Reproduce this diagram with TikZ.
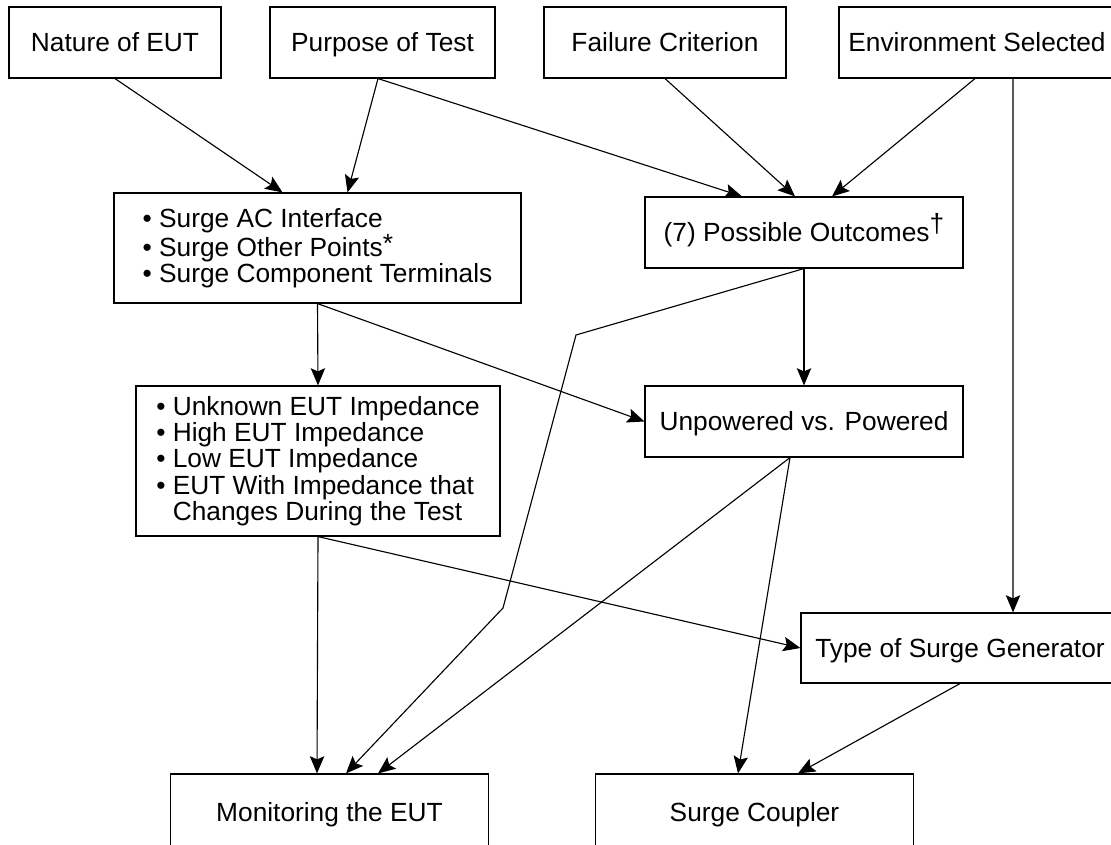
\documentclass[tikz,border=0pt]{standalone}
\usepackage{fontspec}
\setmainfont{Liberation Sans}
\usetikzlibrary{arrows.meta}

\begin{document}
\begin{tikzpicture}[
    x=0.025cm, y=-0.025cm,
    >={Stealth[length=4.3mm, width=3.6mm, inset=0.8mm]},
    line width=0.8pt,
    listbox/.style={draw, rectangle, inner sep=0pt, align=left,
      font=\fontsize{18.7}{18.7}\selectfont},
    flowbox/.style={listbox, align=center, text height=13.4pt, text depth=0pt},
  ]

  \useasboundingbox (0,0) rectangle (1111,845);

  % Top row of inputs
  \node[flowbox, minimum width=5.3cm, minimum height=1.775cm]
    (nature) at (115,42.5) {Nature of EUT};
  \node[flowbox, minimum width=5.625cm, minimum height=1.775cm]
    (purpose) at (382.5,42.5) {Purpose of Test};
  \node[flowbox, minimum width=6.05cm, minimum height=1.775cm]
    (failure) at (665,42.5) {Failure Criterion};
  \node[flowbox, minimum width=6.9cm, minimum height=1.775cm]
    (environ) at (977,42.5) {Environment Selected};

  % Surge points and outcomes
  \node[listbox, minimum width=10.175cm, minimum height=2.75cm]
    (surge) at (317.5,248)
    {• Surge AC Interface\\
     • Surge Other Points\raisebox{0.15em}{*}\\
     • Surge Component Terminals};
  \node[flowbox, minimum width=7.95cm, minimum height=1.775cm]
    (outcomes) at (804,232.5) {(7) Possible Outcomes\raisebox{0.35em}{†}};

  % Impedance and power state
  \node[listbox, minimum width=9.1cm, minimum height=3.75cm]
    (unknown) at (318,461)
    {• Unknown EUT Impedance\\
     • High EUT Impedance\\
     • Low EUT Impedance\\
     • EUT With Impedance that\\
     \phantom{• }Changes During the Test};
  \node[flowbox, minimum width=7.95cm, minimum height=1.775cm]
    (unpowered) at (804,421.5) {Unpowered vs. Powered};

  % Generator
  \node[flowbox, minimum width=7.95cm, minimum height=1.75cm]
    (typegen) at (960,648) {Type of Surge Generator};

  % Bottom row
  \node[flowbox, minimum width=7.95cm, minimum height=1.9cm]
    (monitor) at (329.5,812) {Monitoring the EUT};
  \node[flowbox, minimum width=7.95cm, minimum height=1.9cm]
    (coupler) at (754.5,812) {Surge Coupler};

  % Arrows from the top row
  \draw[->] (nature.south) -- ([xshift=-0.875cm]surge.north);
  \draw[->] ([xshift=-0.1125cm]purpose.south) -- ([xshift=0.75cm]surge.north);
  \draw[->] ([xshift=-0.1125cm]purpose.south) -- ([xshift=-1.55cm]outcomes.north);
  \draw[->] (failure.south) -- ([xshift=-0.225cm]outcomes.north);
  \draw[->] ([xshift=-0.05cm]environ.south) -- ([xshift=0.7cm]outcomes.north);
  \draw[->] ([xshift=0.9cm]environ.south) -- ([xshift=1.325cm]typegen.north);

  % Arrows from the middle
  \draw[->] (surge.south) -- (unknown.north);
  \draw[->] (surge.south) -- (unpowered.west);
  \draw[->] (outcomes.south) -- (unpowered.north);
  \draw[->] (outcomes.south) -- (576,335) -- (503,608)
    -- ([xshift=0.4125cm]monitor.north);
  \draw[->] ([xshift=-0.35cm]unpowered.south) -- ([xshift=1.2125cm]monitor.north);
  \draw[->] ([xshift=-0.35cm]unpowered.south) -- ([xshift=-0.4125cm]coupler.north);

  % Arrows to the bottom row
  \draw[->] (unknown.south) -- ([xshift=-0.3125cm]monitor.north);
  \draw[->] (unknown.south) -- (typegen.west);
  \draw[->] (typegen.south) -- ([xshift=1.0875cm]coupler.north);

\end{tikzpicture}
\end{document}
